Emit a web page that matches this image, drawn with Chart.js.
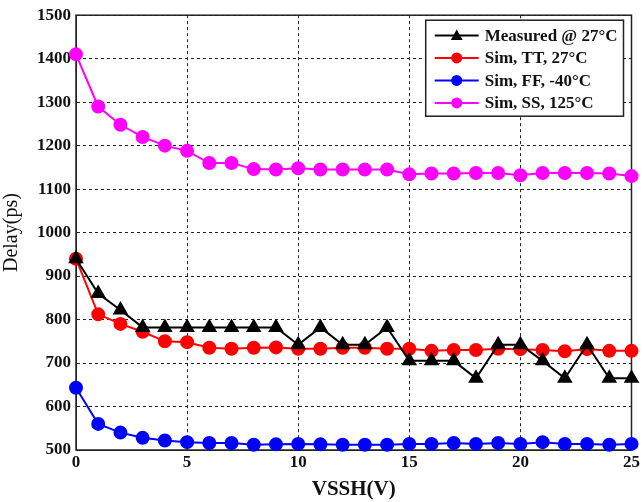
<!DOCTYPE html>
<html lang="en">
<head>
    <meta charset="UTF-8">
    <script src="https://cdn.jsdelivr.net/npm/chart.js@4.4.0/dist/chart.umd.min.js"></script>
    <title>Delay vs VSSH</title>
    <style>
        body { margin: 0; background: #fff; }
        #wrap { width: 642px; height: 502px; }
    </style>
</head>
<body>
    <div id="wrap"><canvas id="chart" width="642" height="502"></canvas></div>
    <script>
        const vssh = [0, 1, 2, 3, 4, 5, 6, 7, 8, 9, 10, 11, 12, 13, 14, 15, 16, 17, 18, 19, 20, 21, 22, 23, 24, 25]
        const measured27 = [940, 860, 822, 782, 782, 782, 782, 782, 782, 782, 742, 782, 742, 742, 782, 705, 705, 705, 665, 742, 742, 705, 665, 742, 665, 665]
        const simTT27 = [940, 812, 790, 772, 750, 748, 735, 733, 735, 736, 733, 733, 735, 735, 733, 733, 728, 730, 730, 733, 732, 730, 727, 732, 728, 728]
        const simFFm40 = [643, 560, 540, 528, 522, 518, 516, 516, 512, 513, 514, 513, 512, 512, 512, 514, 514, 516, 514, 516, 514, 518, 514, 514, 512, 514]
        const simSS125 = [1410, 1290, 1248, 1220, 1200, 1188, 1160, 1160, 1146, 1145, 1148, 1145, 1145, 1145, 1145, 1134, 1136, 1136, 1137, 1137, 1132, 1137, 1137, 1137, 1136, 1130]
        const seriesNames = ['Measured @ 27°C', 'Sim, TT, 27°C', 'Sim, FF, -40°C', 'Sim, SS, 125°C']

        const serif = "'Liberation Serif', 'DejaVu Serif', serif"

        function pts(arr) {
            return arr.map((v, i) => ({ x: vssh[i], y: v }))
        }

        function line(label, arr, color, style) {
            return {
                label: label,
                data: pts(arr),
                borderColor: color,
                backgroundColor: color,
                pointBackgroundColor: color,
                pointBorderColor: color,
                pointStyle: style,
                pointRadius: style == 'triangle' ? 7 : 6,
                borderWidth: 2,
                tension: 0,
                clip: false
            }
        }

        // solid box around the plot area
        const frame = {
            id: 'frame',
            beforeDatasetsDraw(chart) {
                const a = chart.chartArea, c = chart.ctx
                c.save()
                c.strokeStyle = '#222'
                c.lineWidth = 1.5
                c.setLineDash([])
                c.strokeRect(a.left, a.top, a.right - a.left, a.bottom - a.top)
                c.restore()
            }
        }

        // boxed legend in the upper right corner of the plot
        const boxLegend = {
            id: 'boxLegend',
            afterDraw(chart) {
                const a = chart.chartArea, c = chart.ctx
                const sets = chart.data.datasets
                c.save()
                c.font = 'bold 17px ' + serif
                let tw = 0
                sets.forEach(d => { tw = Math.max(tw, c.measureText(d.label).width) })
                const sample = 44, gap = 6, padL = 9, padR = 6, rowH = 22.5
                const w = padL + sample + gap + tw + padR
                const h = sets.length * rowH + 6
                const x0 = a.right - 8 - w, y0 = a.top + 5
                c.fillStyle = '#fff'
                c.fillRect(x0, y0, w, h)
                c.strokeStyle = '#222'
                c.lineWidth = 1.5
                c.strokeRect(x0, y0, w, h)
                sets.forEach((d, i) => {
                    const y = y0 + 4 + rowH * i + rowH / 2
                    const cx = x0 + padL + sample / 2
                    c.strokeStyle = d.borderColor
                    c.lineWidth = 2
                    c.beginPath()
                    c.moveTo(x0 + padL, y)
                    c.lineTo(x0 + padL + sample, y)
                    c.stroke()
                    c.fillStyle = d.pointBackgroundColor
                    c.beginPath()
                    if (d.pointStyle == 'triangle') {
                        const r = 6
                        c.moveTo(cx, y - r)
                        c.lineTo(cx + r, y + r * 0.75)
                        c.lineTo(cx - r, y + r * 0.75)
                        c.closePath()
                    } else {
                        c.arc(cx, y, 5.5, 0, Math.PI * 2)
                    }
                    c.fill()
                    c.fillStyle = '#111'
                    c.textBaseline = 'middle'
                    c.textAlign = 'left'
                    c.fillText(d.label, x0 + padL + sample + gap, y + 1)
                })
                c.restore()
            }
        }

        const tickFont = { family: serif, size: 17, weight: 'bold' }

        const ctx = document.getElementById('chart').getContext('2d')
        const myChart = new Chart(ctx, {
            type: 'line',
            data: {
                datasets: [
                    line(seriesNames[0], measured27, '#000000', 'triangle'),
                    line(seriesNames[1], simTT27, '#ff0000', 'circle'),
                    line(seriesNames[2], simFFm40, '#0000ff', 'circle'),
                    line(seriesNames[3], simSS125, '#ff00ff', 'circle')
                ]
            },
            options: {
                responsive: false,
                animation: false,
                layout: { padding: { top: 15, right: 7, left: 0, bottom: 0 } },
                plugins: {
                    legend: { display: false },
                    tooltip: { enabled: false }
                },
                scales: {
                    x: {
                        type: 'linear',
                        min: 0,
                        max: 25,
                        ticks: {
                            stepSize: 5,
                            color: '#111',
                            padding: 2,
                            font: tickFont,
                            callback: v => String(v)
                        },
                        grid: {
                            color: '#222',
                            lineWidth: 1,
                            drawTicks: false,
                            borderDash: [3, 3]
                        },
                        border: { display: true, dash: [3, 3], color: '#222' },
                        title: {
                            display: true,
                            text: 'VSSH(V)',
                            color: '#111',
                            padding: { top: 5, bottom: 0 },
                            font: { family: serif, size: 21, weight: 'bold' }
                        },
                        afterFit(scale) { scale.height = 52 }
                    },
                    y: {
                        min: 500,
                        max: 1500,
                        ticks: {
                            stepSize: 100,
                            color: '#111',
                            padding: 5,
                            font: tickFont,
                            callback: v => String(v)
                        },
                        grid: {
                            color: '#222',
                            lineWidth: 1,
                            drawTicks: false,
                            borderDash: [3, 3]
                        },
                        border: { display: true, dash: [3, 3], color: '#222' },
                        title: {
                            display: true,
                            text: 'Delay(ps)',
                            color: '#111',
                            padding: { top: 0, bottom: 2 },
                            font: { family: serif, size: 20, weight: 'normal' }
                        },
                        afterFit(scale) { scale.width = 76 }
                    }
                }
            },
            plugins: [frame, boxLegend]
        })
    </script>
</body>
</html>
